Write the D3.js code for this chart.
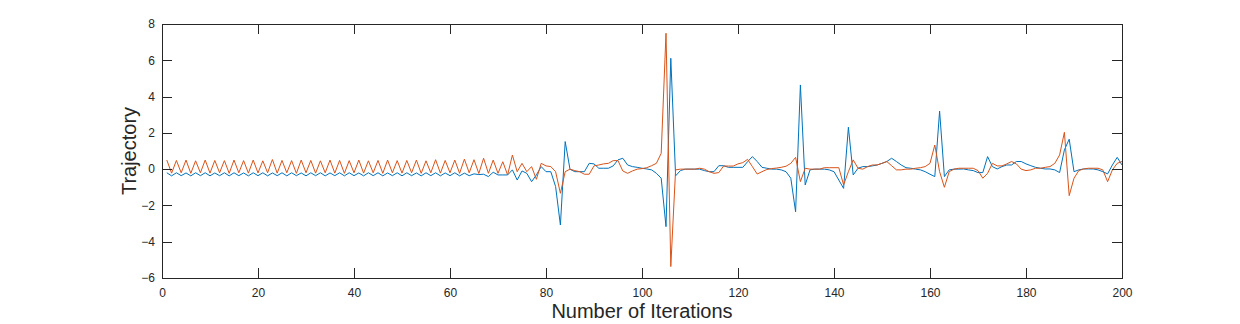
<!DOCTYPE html>
<html>
<head>
<meta charset="utf-8">
<script src="https://cdn.jsdelivr.net/npm/d3@7"></script>
<style>
  body { margin: 0; background: #fff; }
  svg { display: block; font-family: "Liberation Sans", Arial, Helvetica, sans-serif; }
</style>
</head>
<body>
<div id="chart"></div>
<script>
// Traiettorie (iterazioni 1..200)
const iterations = d3.range(1, 201);

const xTicks = [0, 20, 40, 60, 80, 100, 120, 140, 160, 180, 200];
const yTicks = [-6, -4, -2, 0, 2, 4, 6, 8];

const trajBlue = [
  -0.2, -0.37, -0.2, -0.36, -0.21, -0.37, -0.2, -0.36, -0.2, -0.37,
  -0.21, -0.36, -0.2, -0.37, -0.2, -0.36, -0.21, -0.37, -0.2, -0.36,
  -0.2, -0.37, -0.21, -0.36, -0.2, -0.37, -0.2, -0.36, -0.21, -0.37,
  -0.2, -0.36, -0.2, -0.37, -0.21, -0.36, -0.2, -0.37, -0.2, -0.36,
  -0.21, -0.37, -0.2, -0.36, -0.2, -0.37, -0.21, -0.36, -0.2, -0.37,
  -0.2, -0.36, -0.21, -0.37, -0.2, -0.36, -0.2, -0.37, -0.21, -0.36,
  -0.2, -0.37, -0.22, -0.36, -0.26, -0.3,
  -0.28, -0.41, -0.17, -0.32, -0.32, -0.32, -0.04, -0.6, -0.1, -0.23,
  -0.69, -0.32, 0.14, -0.14, -0.14, -0.96, -3.08, 1.52, -0.01, -0.14,
  -0.14, -0.14, 0.32, 0.29, 0.05, 0.05, 0.05, 0.18, 0.51, 0.6,
  0.23, 0.14, 0.1, 0.05, 0.01, -0.04, -0.23, -0.5, -3.17, 6.11,
  -0.37, -0.08, 0, 0, 0, 0, -0.08, -0.14, -0.14, 0.19,
  0.19, 0.1, 0.1, 0.1, 0.1, 0.41, 0.69, 0.42, 0.1, 0.05,
  0, 0, -0.04, -0.14, -0.5, -2.35, 4.64, -0.87, -0.04, 0,
  0, 0, -0.04, -0.14, -0.6, -1.06, 2.31, -0.32, 0.05, 0.14,
  0.14, 0.18, 0.23, 0.32, 0.42, 0.6, 0.42, 0.23, 0.08, 0.05,
  0, -0.04, -0.14, -0.28, -0.41, 3.2, -0.41, -0.04, 0, 0,
  0.01, -0.04, -0.08, -0.19, -0.19, 0.69, 0.14, 0.01, 0.14, 0.23,
  0.23, 0.42, 0.42, 0.29, 0.19, 0.1, 0.05, 0.01, 0.01, -0.04,
  -0.19, 1.06, 1.65, -0.14, -0.04, 0.01, 0.01, 0.01, -0.04, -0.14,
  -0.26, 0.23, 0.65, 0.23
];

const trajOrange = [
  0.5, -0.22, 0.48, -0.2, 0.5, -0.23, 0.46, -0.2, 0.5, -0.22,
  0.48, -0.2, 0.47, -0.23, 0.5, -0.2, 0.47, -0.22, 0.5, -0.21,
  0.46, -0.2, 0.53, -0.22, 0.48, -0.2, 0.47, -0.23, 0.5, -0.2,
  0.48, -0.22, 0.46, -0.2, 0.5, -0.22, 0.48, -0.23, 0.47, -0.2,
  0.5, -0.22, 0.46, -0.2, 0.48, -0.23, 0.5, -0.2, 0.47, -0.22,
  0.48, -0.2, 0.5, -0.23, 0.46, -0.2, 0.52, -0.22, 0.48, -0.2,
  0.5, -0.23, 0.55, -0.2, 0.52, -0.24,
  0.6, -0.23, 0.5, -0.23, 0.41, -0.32, 0.78, -0.14, 0.32, -0.14,
  0.14, -0.56, 0.32, 0.18, 0.14, -0.14, -1.33, -0.14, 0, -0.08,
  -0.14, -0.28, -0.28, 0.18, 0.23, 0.29, 0.32, 0.47, 0.47, -0.1,
  -0.23, -0.1, 0, 0.03, 0.08, 0.19, 0.32, 0.87, 7.49, -5.37,
  -0.04, 0, 0, 0, 0, 0.05, 0, -0.14, -0.23, -0.19,
  0.17, 0.17, 0.17, 0.29, 0.36, 0.54, 0.14, -0.27, -0.14, -0.02,
  0.03, 0.06, 0.1, 0.16, 0.32, 0.65, -0.69, 0.05, 0, 0,
  0, 0.08, 0.08, 0.08, 0.08, -0.87, -0.14, 0.51, 0.05, 0,
  0.14, 0.23, 0.23, 0.32, 0.42, 0.19, -0.04, -0.04, 0, 0,
  0.05, 0.08, 0.14, 0.32, 1.33, -0.14, -1.0, -0.14, 0, 0.05,
  0.05, 0.05, 0.05, -0.08, -0.5, -0.23, 0.32, 0.18, 0.18, 0.29,
  0.42, 0.29, 0, -0.08, -0.04, 0.05, 0.05, 0.1, 0.14, 0.32,
  0.78, 2.03, -1.46, -0.5, -0.08, 0.01, 0.05, 0.05, 0.05, -0.04,
  -0.69, -0.04, 0.32, 0.42
];

const width = 1240;
const height = 324;
const margin = { top: 24, right: 118, bottom: 46, left: 162 };
const innerW = width - margin.left - margin.right;   // 960
const innerH = height - margin.top - margin.bottom;  // 254
const tickLen = 9.6;
const axisColor = "#262626";

const svg = d3.select("#chart")
    .append("svg")
    .attr("width", width)
    .attr("height", height);

svg.append("rect")
    .attr("width", width)
    .attr("height", height)
    .attr("fill", "#fff");

const g = svg.append("g")
    .attr("transform", `translate(${margin.left},${margin.top})`);

const x = d3.scaleLinear().domain([0, 200]).range([0, innerW]);
const y = d3.scaleLinear().domain([-6, 8]).range([innerH, 0]);

// Clip per le linee
g.append("clipPath").attr("id", "clip")
    .append("rect").attr("width", innerW).attr("height", innerH);

const line = d3.line()
    .x((d, i) => x(iterations[i]))
    .y(d => y(d));

const plot = g.append("g").attr("clip-path", "url(#clip)");

plot.append("path")
    .datum(trajBlue)
    .attr("fill", "none")
    .attr("stroke", "#0072BD")
    .attr("stroke-width", 1)
    .attr("d", line);

plot.append("path")
    .datum(trajOrange)
    .attr("fill", "none")
    .attr("stroke", "#D95319")
    .attr("stroke-width", 1)
    .attr("d", line);

// Assi con tacche interne su tutti i lati
function styleAxis(sel) {
    sel.select(".domain").remove();
    sel.selectAll("line").attr("stroke", axisColor).attr("shape-rendering", "crispEdges");
    sel.selectAll("text").attr("fill", axisColor).attr("font-size", "12px")
        .attr("font-family", "'Liberation Sans', Arial, Helvetica, sans-serif");
}

g.append("g")
    .attr("transform", `translate(0,${innerH})`)
    .call(d3.axisBottom(x).tickValues(xTicks).tickSize(-tickLen).tickPadding(10))
    .call(styleAxis);

g.append("g")
    .call(d3.axisTop(x).tickValues(xTicks).tickSize(-tickLen).tickFormat(""))
    .call(styleAxis);

g.append("g")
    .call(d3.axisLeft(y).tickValues(yTicks).tickSize(-tickLen).tickPadding(7))
    .call(styleAxis);

g.append("g")
    .attr("transform", `translate(${innerW},0)`)
    .call(d3.axisRight(y).tickValues(yTicks).tickSize(-tickLen).tickFormat(""))
    .call(styleAxis);

// Riquadro
g.append("rect")
    .attr("x", 0.5)
    .attr("y", 0.5)
    .attr("width", innerW)
    .attr("height", innerH)
    .attr("fill", "none")
    .attr("stroke", axisColor)
    .attr("stroke-width", 1)
    .attr("shape-rendering", "crispEdges");

// Etichette degli assi
svg.append("text")
    .attr("x", margin.left + innerW / 2)
    .attr("y", 318)
    .attr("text-anchor", "middle")
    .attr("font-size", "20px")
    .attr("fill", axisColor)
    .text("Number of Iterations");

svg.append("text")
    .attr("transform", `translate(136,${margin.top + innerH / 2}) rotate(-90)`)
    .attr("text-anchor", "middle")
    .attr("font-size", "20px")
    .attr("fill", axisColor)
    .text("Trajectory");
</script>
</body>
</html>
